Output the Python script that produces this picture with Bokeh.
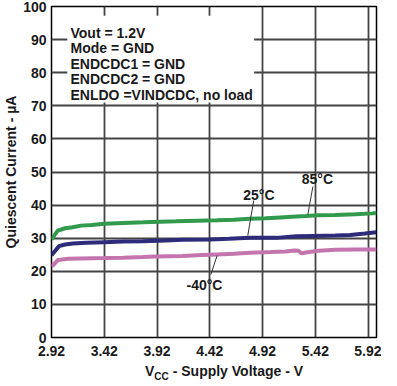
from bokeh.plotting import figure
from bokeh.models import FixedTicker, Label, BoxAnnotation, Range1d, Div
from bokeh.layouts import column
from bokeh.embed import file_html
from bokeh.resources import INLINE

# ---- data ----
v_85 = [2.92, 2.95, 2.98, 3.05, 3.12, 3.20, 3.30, 3.42, 3.60, 3.79, 3.95, 4.10, 4.30, 4.49,
        4.65, 4.80, 4.95, 5.05, 5.20, 5.33, 5.45, 5.61, 5.80, 5.96, 6.00]
i_85 = [29.6, 31.0, 32.3, 33.0, 33.3, 33.8, 34.0, 34.4, 34.6, 34.8, 35.0, 35.1, 35.3, 35.4,
        35.6, 35.9, 36.0, 36.2, 36.5, 36.7, 36.9, 37.0, 37.2, 37.5, 37.6]

v_25 = [2.92, 2.95, 2.99, 3.05, 3.12, 3.25, 3.42, 3.60, 3.79, 4.00, 4.16, 4.42, 4.60, 4.80,
        5.05, 5.24, 5.40, 5.61, 5.75, 5.89, 6.00]
i_25 = [24.9, 26.0, 27.6, 28.1, 28.4, 28.6, 28.8, 29.0, 29.1, 29.3, 29.5, 29.6, 29.8, 30.1,
        30.1, 30.6, 30.7, 30.8, 31.0, 31.4, 31.8]

v_m40 = [2.92, 2.94, 2.98, 3.08, 3.20, 3.42, 3.60, 3.79, 3.90, 4.16, 4.35, 4.49, 4.65, 4.80,
         5.00, 5.14, 5.22, 5.26, 5.29, 5.33, 5.45, 5.61, 5.80, 6.00]
i_m40 = [21.5, 22.0, 23.4, 23.8, 23.9, 24.0, 24.1, 24.3, 24.5, 24.6, 24.9, 25.1, 25.3, 25.6,
         25.8, 26.0, 26.3, 26.2, 25.4, 25.7, 26.2, 26.5, 26.6, 26.6]

x_ticks = [2.92, 3.42, 3.92, 4.42, 4.92, 5.42, 5.92]
y_ticks = [0, 10, 20, 30, 40, 50, 60, 70, 80, 90, 100]

conditions = ["Vout = 1.2V", "Mode = GND", "ENDCDC1 = GND", "ENDCDC2 = GND",
              "ENLDO =VINDCDC, no load"]

FONT = "Liberation Sans"
INK = "#1a1a1a"

p = figure(width=381, height=359, output_backend="svg", toolbar_location=None,
           x_range=Range1d(2.92, 6.0), y_range=Range1d(0, 100),
           min_border_left=44, min_border_right=5, min_border_top=6, min_border_bottom=22)

p.background_fill_color = "white"
p.outline_line_color = "black"
p.outline_line_width = 1.5

for ax in (p.xaxis[0], p.yaxis[0]):
    ax.axis_line_color = None
    ax.major_tick_line_color = None
    ax.minor_tick_line_color = None
    ax.major_tick_in = 0
    ax.major_tick_out = 0
    ax.major_label_text_font = FONT
    ax.major_label_text_font_style = "bold"
    ax.major_label_text_font_size = "14px"
    ax.major_label_text_color = INK

p.xaxis.ticker = FixedTicker(ticks=x_ticks)
p.yaxis.ticker = FixedTicker(ticks=y_ticks)
p.xaxis.major_label_overrides = {t: f"{t:.2f}" for t in x_ticks}
p.xaxis.major_label_standoff = 8
p.yaxis.major_label_standoff = 5

p.yaxis.axis_label = "Quiescent Current - µA"
p.yaxis.axis_label_text_font = FONT
p.yaxis.axis_label_text_font_style = "bold"
p.yaxis.axis_label_text_font_size = "14px"
p.yaxis.axis_label_text_color = INK
p.yaxis.axis_label_standoff = 1

p.xgrid.ticker = FixedTicker(ticks=x_ticks)
p.ygrid.ticker = FixedTicker(ticks=y_ticks)
for g in (p.xgrid[0], p.ygrid[0]):
    g.grid_line_color = "#444444"
    g.grid_line_width = 1.8

# curves
p.line(v_85, i_85, line_color="#319a4c", line_width=4)
p.line(v_25, i_25, line_color="#2e2b7a", line_width=4)
p.line(v_m40, i_m40, line_color="#c475ad", line_width=4)

# conditions box
p.add_layout(BoxAnnotation(left=3.07, right=4.84, bottom=71, top=97.2,
                           fill_color="white", fill_alpha=1.0, line_color=None))
for k, txt in enumerate(conditions):
    p.add_layout(Label(x=3.1, y=92.1 - k * 4.68, text=txt, text_font=FONT,
                       text_font_style="bold", text_font_size="14px",
                       text_color=INK, text_baseline="middle", text_align="left"))

# temperature labels with leaders
p.segment(x0=[5.397, 4.836, 4.43], y0=[45.6, 41.4, 19.0],
          x1=[5.35, 4.78, 4.49], y1=[37.2, 30.8, 24.8],
          line_color="#333333", line_width=1)
for (lx, ly, txt) in [(5.44, 47.8, "85°C"), (4.885, 43.0, "25°C"), (4.37, 16.0, "-40°C")]:
    p.add_layout(Label(x=lx, y=ly, text=txt, text_font=FONT, text_font_style="bold",
                       text_font_size="14px", text_color=INK,
                       text_align="center", text_baseline="middle"))

# x axis title with subscript
xlabel = Div(width=381, height=18,
             text=('<div style="font-family:\'Liberation Sans\';font-weight:bold;font-size:14px;'
                   'color:#1a1a1a;padding-left:140px;margin-top:-2px;line-height:16px;white-space:nowrap">'
                   'V<sub style="font-size:10px;line-height:0">CC</sub> - Supply Voltage - V</div>'))

layout = column(p, xlabel, spacing=0)
open("out.html", "w").write(file_html(layout, INLINE))
